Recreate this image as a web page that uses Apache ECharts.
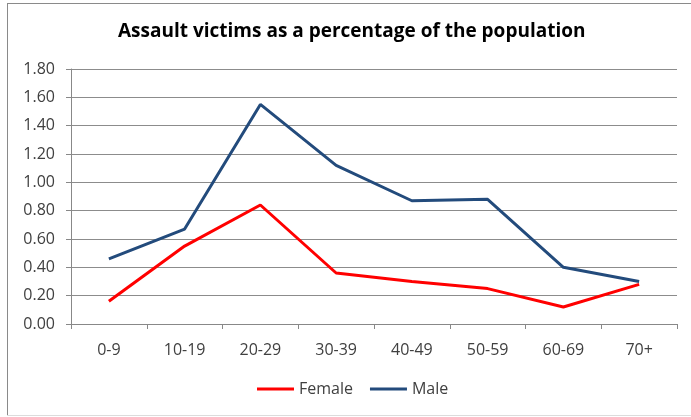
<!DOCTYPE html>
<html><head><meta charset="utf-8">
<script src="https://cdn.jsdelivr.net/npm/echarts@6/dist/echarts.min.js"></script>
<style>html,body{margin:0;padding:0;background:#fff}#c{width:691px;height:417px}</style>
</head><body><div id="c"></div>
<script>
const categories = ['0-9','10-19','20-29','30-39','40-49','50-59','60-69','70+'];
const female = [0.16, 0.55, 0.84, 0.36, 0.30, 0.25, 0.12, 0.28];
const male = [0.46, 0.67, 1.55, 1.12, 0.87, 0.88, 0.40, 0.30];
const titleText = 'Assault victims as a percentage of the population';

const chart = echarts.init(document.getElementById('c'), null, {renderer:'canvas'});
const font = '"Open Sans", Lato, sans-serif';
chart.setOption({
  animation: false,
  backgroundColor: '#fff',
  title: {
    text: titleText, left: 118, top: 22, padding: 0,
    textStyle: {fontFamily: font, fontWeight: 'bold', fontSize: 19, color: '#000'}
  },
  grid: {left: 71, right: 14, top: 69, bottom: 93, containLabel: false},
  legend: {
    bottom: 20, left: 257, padding: 0, itemWidth: 37, itemHeight: 3, itemGap: 17,
    icon: 'rect',
    textStyle: {fontFamily: font, fontSize: 16, color: '#404040'},
    data: ['Female','Male']
  },
  xAxis: {
    type: 'category', data: categories, boundaryGap: true,
    axisLine: {lineStyle: {color: '#888', width: 1}},
    axisTick: {show: true, length: 5, lineStyle: {color: '#888'}},
    axisLabel: {fontFamily: font, fontSize: 16, color: '#404040', margin: 18}
  },
  yAxis: {
    type: 'value', min: 0, max: 1.8, interval: 0.2,
    axisLine: {show: true, lineStyle: {color: '#888'}},
    axisTick: {show: true, length: 5, inside: false, lineStyle: {color: '#888'}},
    splitLine: {lineStyle: {color: '#8c8c8c', width: 1}},
    axisLabel: {fontFamily: font, fontSize: 16, color: '#404040', margin: 16,
      formatter: v => v.toFixed(2)}
  },
  series: [
    {name: 'Female', type: 'line', data: female, symbol: 'none',
     lineStyle: {color: '#ff0000', width: 3}, itemStyle: {color: '#ff0000'}},
    {name: 'Male', type: 'line', data: male, symbol: 'none',
     lineStyle: {color: '#234b7c', width: 3}, itemStyle: {color: '#234b7c'}}
  ],
  graphic: [
    {type: 'line', shape: {x1: 7.5, y1: 3, x2: 7.5, y2: 416}, style: {stroke: '#8a8a8a', lineWidth: 1}},
    {type: 'line', shape: {x1: 7, y1: 3.5, x2: 691, y2: 3.5}, style: {stroke: '#8a8a8a', lineWidth: 1}},
    {type: 'line', shape: {x1: 7, y1: 415.5, x2: 691, y2: 415.5}, style: {stroke: '#dcdcdc', lineWidth: 1}}
  ]
});
</script></body></html>
